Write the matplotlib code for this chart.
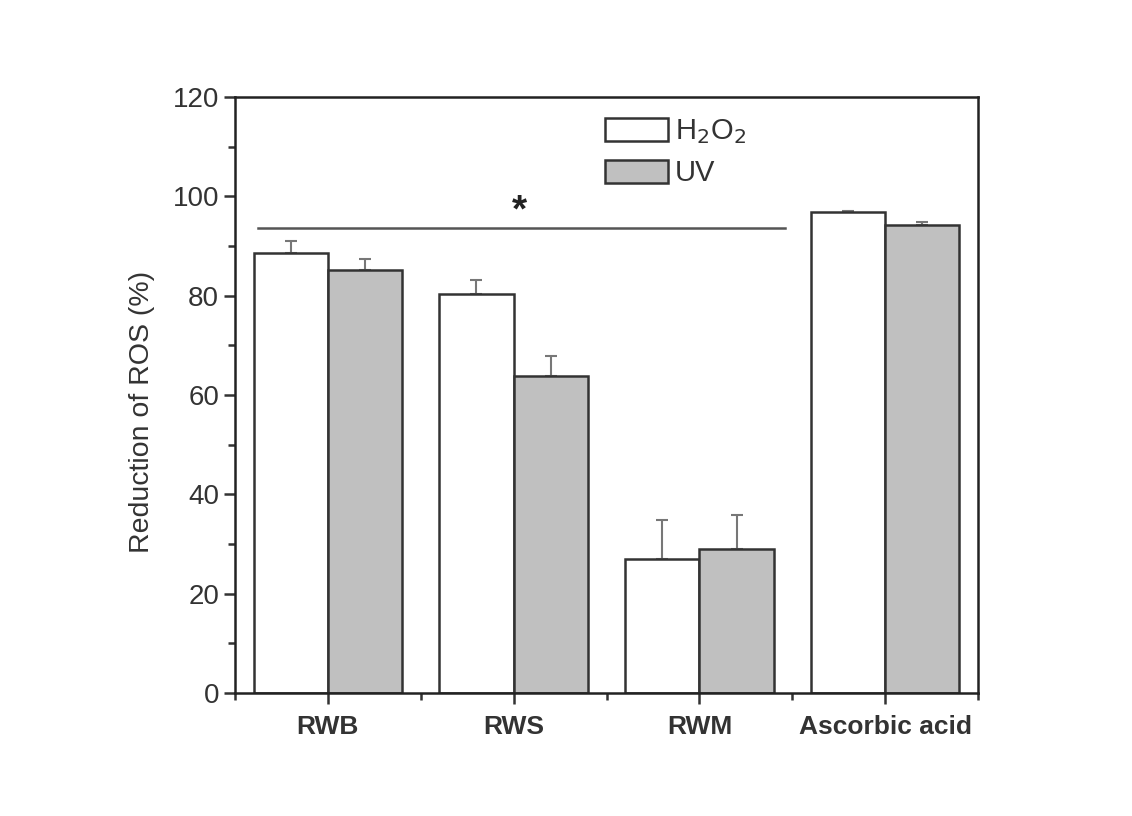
import numpy as np
import matplotlib.pyplot as plt
from matplotlib.ticker import MultipleLocator, FixedLocator

plt.rcParams['font.family'] = ['Liberation Sans', 'DejaVu Sans']

categories = ['RWB', 'RWS', 'RWM', 'Ascorbic acid']
h2o2 = [88.6, 80.3, 27.0, 96.8]
h2o2_err = [2.4, 2.8, 7.8, 0.2]
uv = [85.2, 63.8, 29.0, 94.2]
uv_err = [2.2, 4.0, 6.8, 0.6]

ink = '#333333'
x = np.arange(len(categories))
w = 0.4

fig = plt.figure(figsize=(11.32, 8.16), dpi=100)
ax = fig.add_axes([0.2076, 0.1507, 0.6564, 0.7304])

ax.bar(x - w / 2, h2o2, w, color='white', edgecolor=ink, linewidth=1.8, label='H$_2$O$_2$', zorder=2)
ax.bar(x + w / 2, uv, w, color='#c0c0c0', edgecolor=ink, linewidth=1.8, label='UV', zorder=2)
ax.errorbar(x - w / 2, h2o2, yerr=[np.zeros(4), h2o2_err], fmt='none',
            ecolor='#777777', elinewidth=1.5, capsize=4.5, capthick=1.5, zorder=1)
ax.errorbar(x + w / 2, uv, yerr=[np.zeros(4), uv_err], fmt='none',
            ecolor='#777777', elinewidth=1.5, capsize=4.5, capthick=1.5, zorder=1)

# significance line
ax.plot([-0.376, 2.46], [93.6, 93.6], color='#555555', linewidth=1.8)
ax.text(1.03, 97.0, '*', ha='center', va='center', fontsize=28, fontweight='bold', color='#222222')

ax.set_xlim(-0.5, 3.5)
ax.set_ylim(0, 120)
ax.set_xticks(x)
ax.set_xticklabels(categories, fontweight='bold', fontsize=19, color='#222222')
ax.xaxis.set_minor_locator(FixedLocator([-0.5, 0.5, 1.5, 2.5, 3.5]))
ax.yaxis.set_major_locator(MultipleLocator(20))
ax.yaxis.set_minor_locator(MultipleLocator(10))
ax.tick_params(axis='both', which='major', direction='out', length=8, width=1.8, colors=ink,
               labelsize=20, labelcolor='#333333')
ax.tick_params(axis='x', which='major', labelsize=19, pad=8)
ax.tick_params(axis='both', which='minor', direction='out', length=5, width=1.8, colors=ink)
ax.set_ylabel('Reduction of ROS (%)', fontsize=20.5, color='#333333')
ax.yaxis.set_label_coords(-0.108, 0.471)
for s in ax.spines.values():
    s.set_linewidth(1.8)
    s.set_color('#222222')

ax.legend(loc='upper left', bbox_to_anchor=(0.462, 1.01), frameon=False, fontsize=21,
          handlelength=2.16, handleheight=0.85, handletextpad=0.25, labelspacing=0.45,
          labelcolor='#333333')

fig.savefig('out.png', dpi=100)
